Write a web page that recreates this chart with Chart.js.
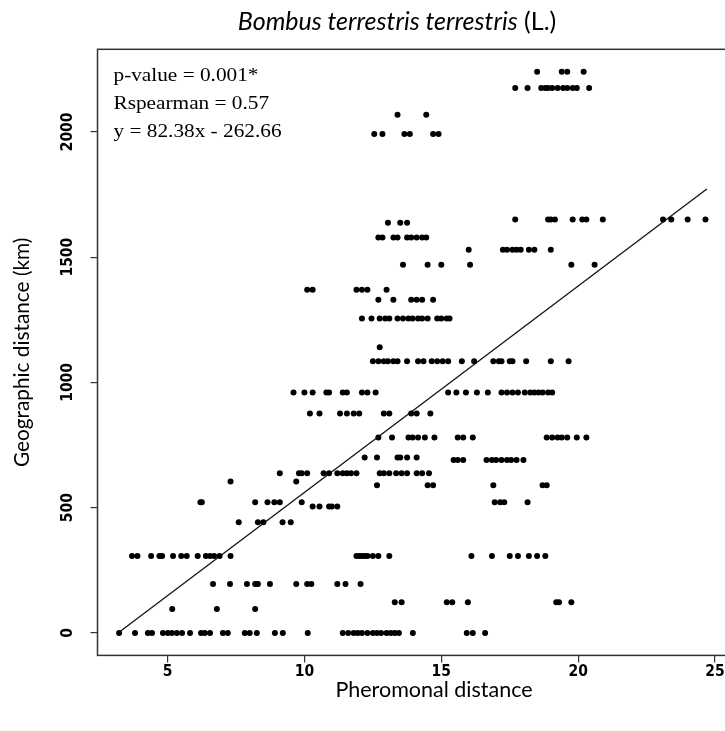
<!DOCTYPE html>
<html><head><meta charset="utf-8">
<script src="https://cdn.jsdelivr.net/npm/chart.js@4"></script>
<style>
html,body{margin:0;padding:0;background:#fff;overflow:hidden;width:725px;height:731px;}
#wrap{position:relative;width:740px;height:731px;}
#c{position:absolute;left:0;top:0;}
#title{position:absolute;left:0;width:794px;top:5px;line-height:34px;text-align:center;font:25px Lato, "Open Sans", sans-serif;color:#000;white-space:nowrap;}
</style></head><body>
<div id="wrap"><canvas id="c" width="740" height="731"></canvas>
<div id="title"><i>Bombus terrestris terrestris</i> (L.)</div></div>
<script>
// Pheromonal distance values grouped by geographic distance (km)
const ph0 = [3.23, 3.81, 4.28, 4.43, 4.83, 5.01, 5.16, 5.34, 5.53, 5.82, 6.22, 6.36, 6.55, 7.02, 7.2, 7.82, 8.0, 8.26, 8.92, 9.21, 10.12, 11.4, 11.6, 11.8, 11.95, 12.1, 12.3, 12.5, 12.65, 12.8, 13.0, 13.15, 13.3, 13.45, 13.96, 15.93, 16.15, 16.6];
const ph96 = [5.17, 6.8, 8.2];
const ph123 = [13.3, 13.55, 15.2, 15.4, 15.97, 19.2, 19.3, 19.75];
const ph195 = [6.66, 7.28, 7.9, 8.2, 8.3, 8.74, 9.7, 10.1, 10.25, 11.2, 11.5, 12.05];
const ph307 = [3.7, 3.9, 4.4, 4.7, 4.8, 5.2, 5.5, 5.7, 6.1, 6.4, 6.55, 6.7, 6.9, 7.3, 11.9, 12.0, 12.1, 12.2, 12.3, 12.5, 12.7, 13.1, 16.1, 16.85, 17.5, 17.8, 18.2, 18.5, 18.8];
const ph442 = [7.6, 8.3, 8.5, 9.2, 9.5];
const ph505 = [10.3, 10.55, 10.9, 11.0, 11.2];
const ph522 = [6.2, 6.25, 8.2, 8.65, 8.9, 9.1, 9.9, 16.95, 17.15, 17.3, 18.15];
const ph590 = [12.65, 14.5, 14.7, 16.9, 18.7, 18.85];
const ph605 = [7.3, 9.7];
const ph637 = [9.1, 9.8, 9.9, 10.1, 10.7, 10.9, 11.2, 11.4, 11.55, 11.7, 11.9, 12.75, 12.9, 13.1, 13.35, 13.55, 13.75, 14.1, 14.3, 14.55];
const ph690 = [15.45, 15.6, 15.8, 16.65, 16.85, 17.0, 17.2, 17.4, 17.55, 17.75, 18.0];
const ph700 = [12.2, 12.65, 13.4, 13.5, 13.75, 14.1];
const ph780 = [12.7, 13.2, 13.8, 13.95, 14.15, 14.4, 14.75, 15.6, 15.8, 16.15, 18.85, 19.05, 19.25, 19.4, 19.6, 19.95, 20.3];
const ph876 = [10.2, 10.55, 11.3, 11.55, 11.8, 12.0, 12.9, 13.1, 13.9, 14.1, 14.6];
const ph960 = [9.6, 10.0, 10.3, 10.8, 10.9, 11.4, 11.55, 12.1, 12.3, 12.6, 15.25, 15.55, 15.9, 16.3, 16.7, 17.2, 17.4, 17.6, 17.8, 18.05, 18.25, 18.4, 18.55, 18.7, 18.9, 19.05];
const ph1084 = [12.5, 12.7, 12.9, 13.05, 13.25, 13.4, 13.75, 14.15, 14.35, 14.65, 14.85, 15.05, 15.25, 15.75, 16.2, 16.9, 17.1, 17.2, 17.5, 17.6, 18.1, 19.0, 19.65];
const ph1140 = [12.75];
const ph1255 = [12.1, 12.45, 12.75, 12.95, 13.1, 13.4, 13.6, 13.8, 13.95, 14.15, 14.3, 14.5, 14.85, 15.0, 15.2, 15.3];
const ph1330 = [12.7, 13.25, 13.9, 14.1, 14.3, 14.7];
const ph1370 = [10.1, 10.3, 11.9, 12.1, 12.3, 13.0];
const ph1470 = [13.6, 14.5, 15.0, 16.05, 19.75, 20.6];
const ph1530 = [16.0, 17.25, 17.4, 17.6, 17.75, 17.9, 18.2, 18.4, 19.0];
const ph1578 = [12.7, 12.85, 13.25, 13.4, 13.75, 13.9, 14.1, 14.3, 14.45];
const ph1637 = [13.05, 13.5, 13.75];
const ph1650 = [17.7, 18.9, 19.0, 19.15, 19.8, 20.15, 20.3, 20.9, 23.1, 23.4, 24.0, 24.65];
const ph1992 = [12.55, 12.85, 13.65, 13.85, 14.7, 14.9];
const ph2068 = [13.4, 14.45];
const ph2175 = [17.7, 18.15, 18.65, 18.8, 18.9, 19.05, 19.25, 19.45, 19.6, 19.8, 19.95, 20.4];
const ph2240 = [18.5, 19.4, 19.6, 20.2];

const geoLevels = [0, 96, 123, 195, 307, 442, 505, 522, 590, 605, 637, 690, 700, 780, 876, 960, 1084, 1140, 1255, 1330, 1370, 1470, 1530, 1578, 1637, 1650, 1992, 2068, 2175, 2240];
const pheroGroups = [ph0, ph96, ph123, ph195, ph307, ph442, ph505, ph522, ph590, ph605, ph637, ph690, ph700, ph780, ph876, ph960, ph1084, ph1140, ph1255, ph1330, ph1370, ph1470, ph1530, ph1578, ph1637, ph1650, ph1992, ph2068, ph2175, ph2240];

const xTicks = [5, 10, 15, 20, 25];
const yTicks = [0, 500, 1000, 1500, 2000];
const slope = 82.38, intercept = -262.66;
const fitRange = [3.19, 24.7];
const statLines = ["p-value = 0.001*", "Rspearman = 0.57", "y = 82.38x - 262.66"];

const points = [];
geoLevels.forEach((km, i) => pheroGroups[i].forEach(x => points.push({x: x, y: km})));
const fitLine = fitRange.map(x => ({x: x, y: slope * x + intercept}));

const tickFont = 'bold 15.5px "Liberation Sans Narrow", "DejaVu Sans Condensed", "Arial Narrow", sans-serif';
const statFont = '19px "Liberation Serif", "Times New Roman", serif';

const decor = {
  id: 'decor',
  afterDraw(chart) {
    const ctx = chart.ctx, a = chart.chartArea;
    const xs = chart.scales.x, ys = chart.scales.y;
    ctx.save();
    ctx.strokeStyle = '#333'; ctx.lineWidth = 1.5;
    ctx.strokeRect(a.left, a.top, a.right - a.left, a.bottom - a.top);
    ctx.fillStyle = '#000';
    ctx.font = tickFont; ctx.textAlign = 'center'; ctx.textBaseline = 'middle';
    xTicks.forEach(v => ctx.fillText(String(v), xs.getPixelForValue(v), a.bottom + 17));
    yTicks.forEach(v => {
      ctx.save();
      ctx.translate(a.left - 30, ys.getPixelForValue(v));
      ctx.rotate(-Math.PI / 2);
      ctx.fillText(String(v), 0, 0);
      ctx.restore();
    });
    ctx.font = '21.5px Lato, "Open Sans", sans-serif';
    ctx.fillText('Pheromonal distance', 434, 690);
    ctx.save();
    ctx.translate(22, (a.top + a.bottom) / 2);
    ctx.rotate(-Math.PI / 2);
    ctx.font = '20.8px Lato, "Open Sans", sans-serif';
    ctx.fillText('Geographic distance (km)', 0, 0);
    ctx.restore();
    ctx.font = statFont; ctx.textAlign = 'left'; ctx.textBaseline = 'alphabetic';
    statLines.forEach((t, i) => {
      ctx.save();
      ctx.translate(a.left + 16, a.top + 31.5 + i * 28);
      ctx.scale(1.12, 1);
      ctx.fillText(t, 0, 0);
      ctx.restore();
    });
    ctx.restore();
  }
};

new Chart(document.getElementById('c'), {
  type: 'scatter',
  data: {
    datasets: [
      {data: points, backgroundColor: '#000', borderColor: '#000', pointRadius: 3, pointHoverRadius: 3, borderWidth: 0},
      {type: 'line', data: fitLine, borderColor: '#111', borderWidth: 1.3, pointRadius: 0, fill: false, tension: 0}
    ]
  },
  options: {
    responsive: false, animation: false,
    layout: {padding: {left: 90.5, top: 49.3, right: 11, bottom: 68.6}},
    plugins: {legend: {display: false}, tooltip: {enabled: false}},
    scales: {
      x: {
        type: 'linear', min: 2.44, max: 25.51,
        afterBuildTicks: s => { s.ticks = xTicks.map(v => ({value: v})); },
        ticks: {display: false},
        grid: {display: true, drawOnChartArea: false, drawTicks: true, tickLength: 7, color: '#333', lineWidth: 1.2},
        border: {display: false}
      },
      y: {
        type: 'linear', min: -89.6, max: 2329.6,
        afterBuildTicks: s => { s.ticks = yTicks.map(v => ({value: v})); },
        ticks: {display: false},
        grid: {display: true, drawOnChartArea: false, drawTicks: true, tickLength: 7, color: '#333', lineWidth: 1.2},
        border: {display: false}
      }
    }
  },
  plugins: [decor]
});
</script>
</body></html>
